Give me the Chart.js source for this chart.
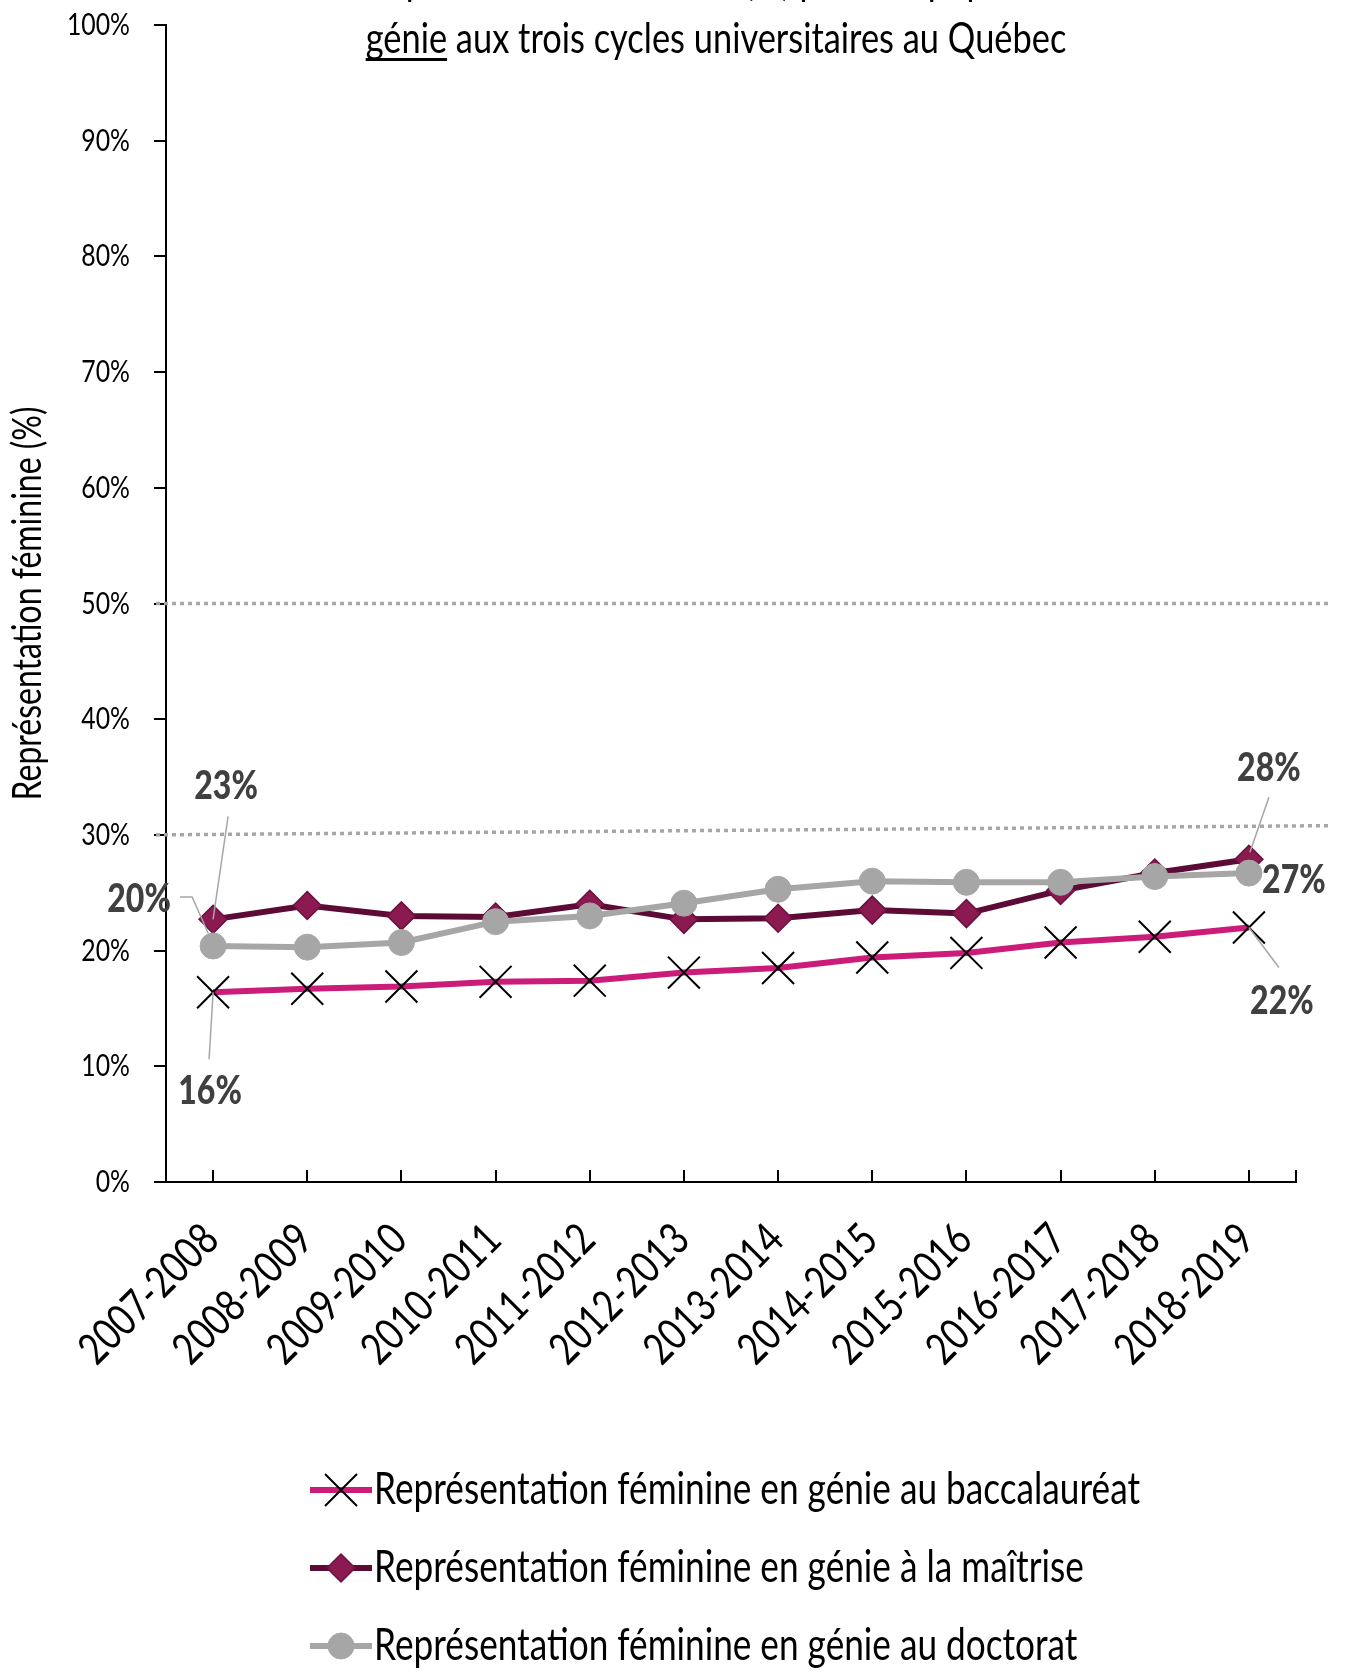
<!DOCTYPE html>
<html lang="fr">
<head>
    <meta charset="UTF-8">
    <title>Représentation féminine en génie au Québec</title>
    <style>
        body {
            margin: 0;
            padding: 0;
            background: #fff;
        }
        #wrap {
            width: 1345px;
            height: 1673px;
        }
    </style>
</head>
<body>
    <div id="wrap"><canvas id="chart" width="1345" height="1673"></canvas></div>

    <script src="https://cdn.jsdelivr.net/npm/chart.js"></script>
    <script>
        // Données
        const annees = ['2007-2008', '2008-2009', '2009-2010', '2010-2011', '2011-2012', '2012-2013',
                        '2013-2014', '2014-2015', '2015-2016', '2016-2017', '2017-2018', '2018-2019'];
        const baccalaureat = [16.4, 16.7, 16.9, 17.3, 17.4, 18.1, 18.5, 19.4, 19.8, 20.7, 21.2, 22.0];
        const maitrise = [22.7, 23.9, 23.0, 22.9, 24.0, 22.7, 22.8, 23.5, 23.2, 25.2, 26.7, 27.9];
        const doctorat = [20.4, 20.3, 20.7, 22.5, 23.0, 24.1, 25.3, 26.0, 25.9, 25.9, 26.4, 26.7];
        const yTickLabels = ['0%', '10%', '20%', '30%', '40%', '50%', '60%', '70%', '80%', '90%', '100%'];
        // lignes pointillées de référence (valeur à gauche, valeur à droite)
        const seuilDebut = [50, 30];
        const seuilFin = [50, 30.8];
        const titre = ['Évolution de la représentation féminine (%) parmi la population étudiante en',
                       'génie aux trois cycles universitaires au Québec'];
        const motSouligne = 'génie';
        const titreAxeY = 'Représentation féminine (%)';

        // pas de police condensée installée : on resserre le texte à la main
        const FONT = "Lato, 'Open Sans', 'Liberation Sans', sans-serif";
        const COND = 0.8;
        Chart.defaults.font.family = FONT;

        // étiquettes de valeurs (premier et dernier point) avec leurs traits de rappel
        const etiquettes = [
            {ds: 0, i: 0, dx: -3, dy: 99, trait: [[-4, 67], [0, 0]]},
            {ds: 1, i: 0, dx: 13, dy: -133, trait: [[15, -103], [0, 0]]},
            {ds: 2, i: 0, dx: -74, dy: -47, trait: [[-33, -49], [-21, -49], [-5, -13]]},
            {ds: 0, i: 11, dx: 33, dy: 74, trait: [[0, 0], [30, 40]]},
            {ds: 1, i: 11, dx: 20, dy: -91, trait: [[20, -62], [1, -7]]},
            {ds: 2, i: 11, dx: 45, dy: 7, trait: null}
        ];

        function ecrire(ctx, str, x, y, o) {
            ctx.save();
            ctx.translate(x, y);
            if (o.rot) ctx.rotate(o.rot);
            ctx.scale(COND, 1);
            ctx.font = (o.weight || 'normal') + ' ' + o.size + 'px ' + FONT;
            ctx.fillStyle = o.color || '#000';
            ctx.textAlign = o.align || 'left';
            ctx.textBaseline = o.baseline || 'alphabetic';
            ctx.fillText(str, 0, 0);
            const w = ctx.measureText(str).width * COND;
            ctx.restore();
            return w;
        }

        function largeur(ctx, str, size) {
            ctx.save();
            ctx.font = 'normal ' + size + 'px ' + FONT;
            const w = ctx.measureText(str).width * COND;
            ctx.restore();
            return w;
        }

        function dessinerMarqueur(ctx, style, x, y, ds) {
            const r = ds.pointRadius;
            ctx.save();
            ctx.lineWidth = ds.pointBorderWidth;
            ctx.strokeStyle = ds.pointBorderColor;
            ctx.fillStyle = ds.pointBackgroundColor;
            ctx.beginPath();
            if (style === 'crossRot') {
                const d = r * Math.SQRT1_2;
                ctx.moveTo(x - d, y - d); ctx.lineTo(x + d, y + d);
                ctx.moveTo(x - d, y + d); ctx.lineTo(x + d, y - d);
                ctx.stroke();
            } else if (style === 'rectRot') {
                ctx.moveTo(x, y - r); ctx.lineTo(x + r, y); ctx.lineTo(x, y + r); ctx.lineTo(x - r, y);
                ctx.closePath();
                ctx.fill(); ctx.stroke();
            } else {
                ctx.arc(x, y, r, 0, Math.PI * 2);
                ctx.fill(); ctx.stroke();
            }
            ctx.restore();
        }

        const decorPlugin = {
            id: 'decor',
            beforeDatasetsDraw(chart) {
                const {ctx, chartArea, scales} = chart;
                // lignes pointillées
                ctx.save();
                ctx.strokeStyle = '#A6A6A6';
                ctx.lineWidth = 3.5;
                ctx.setLineDash([4, 4]);
                seuilDebut.forEach((v, k) => {
                    ctx.beginPath();
                    ctx.moveTo(chartArea.left - 10, scales.y.getPixelForValue(v));
                    ctx.lineTo(chartArea.right + 36, scales.y.getPixelForValue(seuilFin[k]));
                    ctx.stroke();
                });
                ctx.restore();
            },
            afterDatasetsDraw(chart) {
                const {ctx} = chart;
                etiquettes.forEach(e => {
                    const pt = chart.getDatasetMeta(e.ds).data[e.i];
                    const valeur = chart.data.datasets[e.ds].data[e.i];
                    if (e.trait) {
                        ctx.save();
                        ctx.strokeStyle = '#A6A6A6';
                        ctx.lineWidth = 1.5;
                        ctx.beginPath();
                        e.trait.forEach((p, k) => {
                            if (k === 0) ctx.moveTo(pt.x + p[0], pt.y + p[1]);
                            else ctx.lineTo(pt.x + p[0], pt.y + p[1]);
                        });
                        ctx.stroke();
                        ctx.restore();
                    }
                    ecrire(ctx, Math.round(valeur) + '%', pt.x + e.dx, pt.y + e.dy,
                        {size: 40, weight: '900', color: '#404040', align: 'center', baseline: 'middle'});
                });
            },
            afterDraw(chart) {
                const {ctx, chartArea, scales} = chart;
                ctx.save();
                // dernière graduation au bout de l'axe horizontal
                ctx.strokeStyle = '#000';
                ctx.lineWidth = 2;
                ctx.beginPath();
                ctx.moveTo(chartArea.right, chartArea.bottom);
                ctx.lineTo(chartArea.right, chartArea.bottom - 12);
                ctx.stroke();
                ctx.restore();

                // étiquettes de l'axe vertical
                scales.y.ticks.forEach((t, k) => {
                    ecrire(ctx, yTickLabels[k], chartArea.left - 36, scales.y.getPixelForValue(t.value),
                        {size: 31, align: 'right', baseline: 'middle'});
                });
                ecrire(ctx, titreAxeY, 28, (chartArea.top + chartArea.bottom) / 2,
                    {size: 40, align: 'center', baseline: 'middle', rot: -Math.PI / 2});

                // étiquettes de l'axe horizontal, inclinées à 45°
                annees.forEach((a, k) => {
                    ecrire(ctx, a, scales.x.getPixelForTick(k) - 2, chartArea.bottom + 50,
                        {size: 44, align: 'right', baseline: 'middle', rot: -Math.PI / 4});
                });

                // titre (première ligne coupée par le haut)
                const cx = (chartArea.left + chartArea.right) / 2 - 15;
                ecrire(ctx, titre[0], cx, -5, {size: 43, align: 'center'});
                const w = ecrire(ctx, titre[1], cx, 53, {size: 43, align: 'center'});
                const wMot = largeur(ctx, motSouligne, 43);
                ctx.fillStyle = '#000';
                ctx.fillRect(cx - w / 2, 58, wMot, 3);

                // légende
                chart.data.datasets.forEach((ds, k) => {
                    const y = chartArea.bottom + 308 + k * 78;
                    ctx.save();
                    ctx.strokeStyle = ds.borderColor;
                    ctx.lineWidth = ds.borderWidth;
                    ctx.beginPath();
                    ctx.moveTo(310, y);
                    ctx.lineTo(372, y);
                    ctx.stroke();
                    ctx.restore();
                    dessinerMarqueur(ctx, ds.pointStyle, 341, y, ds);
                    ecrire(ctx, ds.label, 374, y, {size: 44, baseline: 'middle'});
                });
            }
        };

        new Chart(document.getElementById('chart'), {
            type: 'line',
            data: {
                labels: annees,
                datasets: [
                    {
                        label: 'Représentation féminine en génie au baccalauréat',
                        data: baccalaureat,
                        borderColor: '#CB1C7A',
                        borderWidth: 6,
                        pointStyle: 'crossRot',
                        pointRadius: 22.6,
                        pointBorderColor: '#000',
                        pointBackgroundColor: '#000',
                        pointBorderWidth: 2,
                        order: 1
                    },
                    {
                        label: 'Représentation féminine en génie à la maîtrise',
                        data: maitrise,
                        borderColor: '#5C0B36',
                        borderWidth: 6,
                        pointStyle: 'rectRot',
                        pointRadius: 14,
                        pointBackgroundColor: '#8A1A50',
                        pointBorderColor: '#6B1040',
                        pointBorderWidth: 1.5,
                        order: 2
                    },
                    {
                        label: 'Représentation féminine en génie au doctorat',
                        data: doctorat,
                        borderColor: '#A6A6A6',
                        borderWidth: 6,
                        pointStyle: 'circle',
                        pointRadius: 13,
                        pointBackgroundColor: '#A6A6A6',
                        pointBorderColor: '#A6A6A6',
                        pointBorderWidth: 1,
                        order: 0
                    }
                ]
            },
            options: {
                responsive: false,
                animation: false,
                events: [],
                layout: {
                    padding: {top: 25, right: 49, bottom: 291, left: 0}
                },
                plugins: {
                    legend: {display: false},
                    tooltip: {enabled: false},
                    title: {display: false}
                },
                scales: {
                    x: {
                        offset: true,
                        afterFit: (scale) => { scale.height = 200; },
                        grid: {
                            offset: false,
                            drawOnChartArea: false,
                            color: '#000',
                            lineWidth: 2,
                            tickLength: -12
                        },
                        border: {color: '#000', width: 2},
                        ticks: {display: false, autoSkip: false}
                    },
                    y: {
                        min: 0,
                        max: 100,
                        afterFit: (scale) => { scale.width = 166; },
                        grid: {
                            drawOnChartArea: false,
                            color: '#000',
                            lineWidth: 2,
                            tickLength: 12
                        },
                        border: {color: '#000', width: 2},
                        ticks: {display: false, stepSize: 10}
                    }
                }
            },
            plugins: [decorPlugin]
        });
    </script>
</body>
</html>
